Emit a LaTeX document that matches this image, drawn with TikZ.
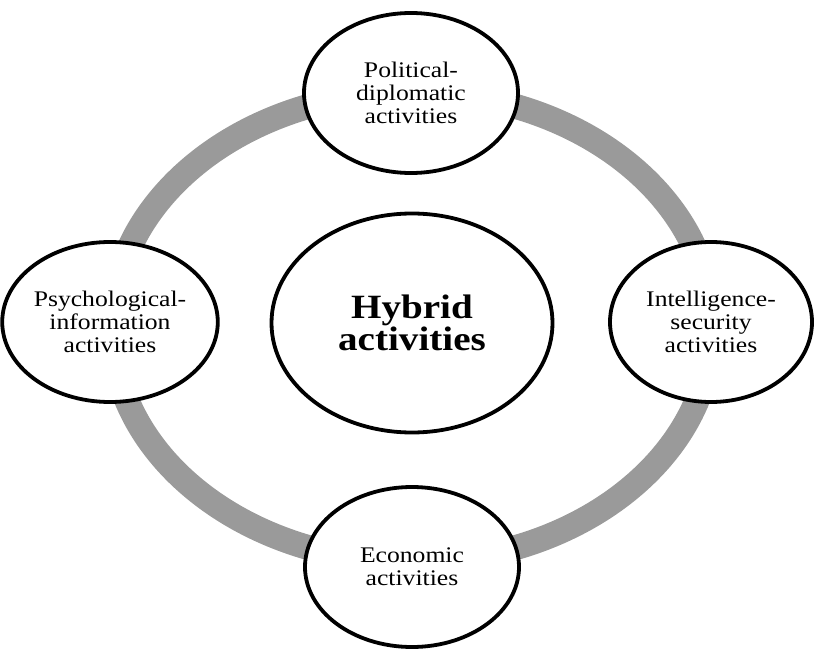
\documentclass[tikz,border=0pt]{standalone}
\usepackage{fontspec}
\setmainfont{Liberation Serif}[FakeStretch=1.15]
\usetikzlibrary{shapes.geometric}
\definecolor{ringgrey}{HTML}{9A9A9A}
\tikzset{
  ringstyle/.style={ellipse, draw=ringgrey, line width=25pt, minimum width=600pt, minimum height=470pt, inner sep=0pt},
  bubble/.style={ellipse, draw=black, line width=3.8pt, fill=white, inner sep=0pt, align=center,
    font=\fontsize{22.3}{23}\selectfont},
  hub/.style={bubble, font=\fontsize{34}{30.5}\selectfont\bfseries},
}
\begin{document}
\begin{tikzpicture}[x=1pt,y=-1pt]
\useasboundingbox (0,0) rectangle (814,650);
\node[ringstyle] (ring) at (412,327) {};
\node[bubble, minimum width=214pt, minimum height=160pt] (pol) at (411,93) {Political-\\diplomatic\\activities};
\node[bubble, minimum width=203pt, minimum height=160pt] (psy) at (110,322) {Psychological-\\information\\activities};
\node[bubble, minimum width=202pt, minimum height=160pt] (int) at (711,322) {Intelligence-\\security\\activities};
\node[bubble, minimum width=214pt, minimum height=160pt] (eco) at (412,567) {Economic\\activities};
\node[hub, minimum width=281pt, minimum height=219pt] (hub) at (412,323) {Hybrid\\activities};
\end{tikzpicture}
\end{document}
